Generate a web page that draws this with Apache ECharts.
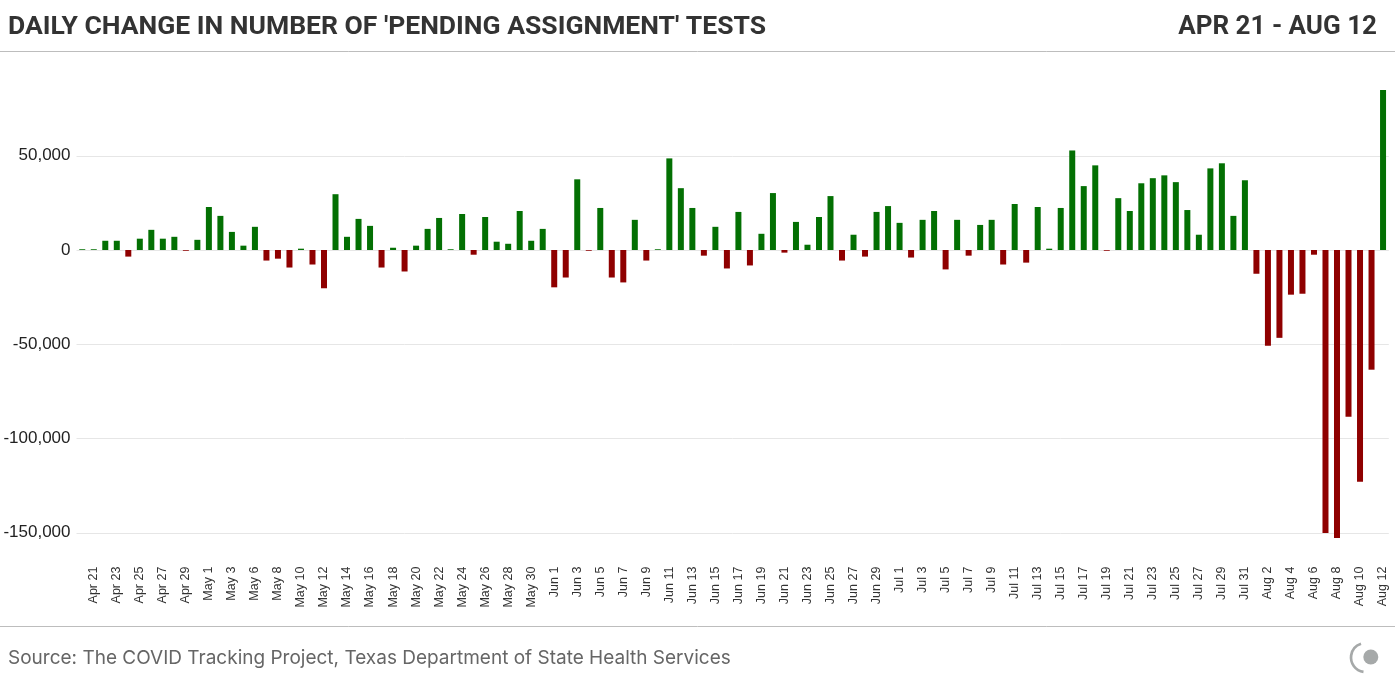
<!DOCTYPE html>
<html>
<head>
<meta charset="utf-8">
<script src="https://cdn.jsdelivr.net/npm/echarts@6/dist/echarts.min.js"></script>
<style>
html,body{margin:0;padding:0;background:#fff;}
#chart{width:1395px;height:686px;}
</style>
</head>
<body>
<div id="chart"></div>
<script>
// Categories (one date between May 3 and May 6 is absent in the source data)
const categories = [
  'Apr 20','Apr 21','Apr 22','Apr 23','Apr 24','Apr 25','Apr 26','Apr 27','Apr 28','Apr 29','Apr 30',
  'May 1','May 2','May 3','May 5','May 6','May 7','May 8','May 9','May 10','May 11','May 12','May 13','May 14','May 15','May 16','May 17','May 18','May 19','May 20','May 21','May 22','May 23','May 24','May 25','May 26','May 27','May 28','May 29','May 30','May 31',
  'Jun 1','Jun 2','Jun 3','Jun 4','Jun 5','Jun 6','Jun 7','Jun 8','Jun 9','Jun 10','Jun 11','Jun 12','Jun 13','Jun 14','Jun 15','Jun 16','Jun 17','Jun 18','Jun 19','Jun 20','Jun 21','Jun 22','Jun 23','Jun 24','Jun 25','Jun 26','Jun 27','Jun 28','Jun 29','Jun 30',
  'Jul 1','Jul 2','Jul 3','Jul 4','Jul 5','Jul 6','Jul 7','Jul 8','Jul 9','Jul 10','Jul 11','Jul 12','Jul 13','Jul 14','Jul 15','Jul 16','Jul 17','Jul 18','Jul 19','Jul 20','Jul 21','Jul 22','Jul 23','Jul 24','Jul 25','Jul 26','Jul 27','Jul 28','Jul 29','Jul 30','Jul 31',
  'Aug 1','Aug 2','Aug 3','Aug 4','Aug 5','Aug 6','Aug 7','Aug 8','Aug 9','Aug 10','Aug 11','Aug 12'
];

// Daily change in pending-assignment tests
const dailyChange = [
  400, 400, 4900, 4900, -3500, 6000, 10700, 6000, 7000, -400, 5400,
  22800, 18100, 9600, 2300, 12300, -5600, -4600, -9300, 700, -7700, -20300, 29600, 7000, 16500, 12800, -9300, 1200, -11400, 2300, 11200, 17000, 400, 19100, -2500, 17500, 4400, 3300, 20700, 4900, 11200,
  -19800, -14600, 37500, -400, 22300, -14600, -17200, 16000, -5600, 400, 48600, 32800, 22300, -3000, 12300, -9800, 20200, -8200, 8600, 30200, -1400, 14900, 2800, 17500, 28600, -5600, 8100, -3500, 20200, 23300,
  14400, -4000, 16000, 20700, -10300, 16000, -3000, 13300, 16000, -7700, 24400, -6700, 22800, 700, 22300, 52800, 33900, 44900, -400, 27500, 20700, 35400, 38100, 39600, 36000, 21200, 8100, 43300, 46000, 18100, 37000,
  -12600, -50800, -46600, -23700, -23200, -2500, -150100, -152800, -88500, -123000, -63500, 84900
];

const yTicks = [-150000, -100000, -50000, 0, 50000];

const titleText = "DAILY CHANGE IN NUMBER OF 'PENDING ASSIGNMENT' TESTS";
const rangeText = 'APR 21 - AUG 12';
const sourceText = 'Source: The COVID Tracking Project, Texas Department of State Health Services';

const GREEN = '#037003';
const RED = '#8f0000';

const chart = echarts.init(document.getElementById('chart'), null, {renderer: 'canvas'});

const option = {
  animation: false,
  backgroundColor: '#fff',
  grid: {left: 76.5, right: 6.2, top: 61.5, bottom: 134.4, containLabel: false},
  xAxis: {
    type: 'category',
    data: categories,
    axisLine: {show: false},
    axisTick: {show: false},
    axisLabel: {
      rotate: 90,
      interval: function (i) { return i % 2 === 1; },
      fontFamily: '"Liberation Sans", Arial, sans-serif',
      fontSize: 12.5,
      color: '#333',
      margin: 15
    },
    splitLine: {show: false}
  },
  yAxis: {
    type: 'value',
    min: -160000,
    max: 100000,
    axisLine: {show: false},
    axisTick: {show: false, customValues: yTicks},
    axisLabel: {
      customValues: yTicks,
      fontFamily: '"Liberation Sans", Arial, sans-serif',
      fontSize: 17,
      color: '#222',
      margin: 6,
      formatter: function (v) { return v.toLocaleString('en-US'); }
    },
    splitLine: {show: true, lineStyle: {color: '#e6e6e6', width: 1}}
  },
  series: [{
    type: 'bar',
    data: dailyChange,
    barWidth: 6,
    itemStyle: {
      color: function (p) { return p.value >= 0 ? GREEN : RED; }
    }
  }],
  graphic: [
    {type: 'text', left: 8, top: 14, style: {text: titleText, font: 'bold 26.5px Roboto, sans-serif', fill: '#333'}},
    {type: 'text', right: 18, top: 14, style: {text: rangeText, font: 'bold 26px Roboto, sans-serif', fill: '#333'}},
    {type: 'line', shape: {x1: 0, y1: 51.5, x2: 1395, y2: 51.5}, style: {stroke: '#bdbdbd', lineWidth: 1}},
    {type: 'line', shape: {x1: 0, y1: 626.5, x2: 1395, y2: 626.5}, style: {stroke: '#bdbdbd', lineWidth: 1}},
    {type: 'text', left: 8, top: 649, style: {text: sourceText, font: '19px Inter, sans-serif', fill: '#666'}},
    {type: 'arc', shape: {cx: 1365.5, cy: 657.5, r: 14.5, startAngle: 98 * Math.PI / 180, endAngle: 252 * Math.PI / 180, clockwise: true}, style: {stroke: '#a6a9a9', lineWidth: 2.7, fill: null}},
    {type: 'circle', shape: {cx: 1370.8, cy: 657, r: 7.5}, style: {fill: '#a6a9a9'}}
  ]
};

chart.setOption(option);
</script>
</body>
</html>
